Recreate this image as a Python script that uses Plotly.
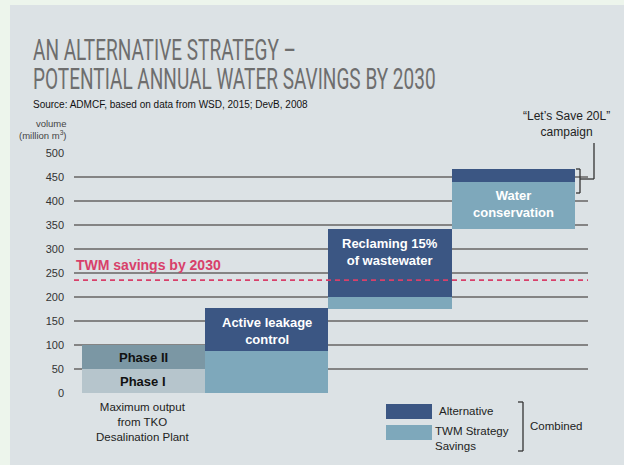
import plotly.graph_objects as go

# ---- data (million m3 per year) ----
steps = ["Desalination", "Active leakage control", "Reclaiming 15% of wastewater", "Water conservation"]
step_x = [0, 1, 2, 3]

desal_phases = ["Phase I", "Phase II"]
desal_values = [50, 50]

twm_base = [0, 175, 342]          # bars for steps 1..3
twm_values = [87, 25, 98]
alt_base = [87, 200, 440]
alt_values = [90, 142, 27]

twm_target_2030 = 235
y_ticks = [0, 50, 100, 150, 200, 250, 300, 350, 400, 450, 500]

bar_labels = ["Active leakage<br>control", "Reclaming 15%<br>of wastewater", "Water<br>conservation"]

# ---- styling ----
W, H = 624, 465
L, R, T, B = 74, 588, 153, 393          # plot-area pixel box
C_DARK = "#3b5683"
C_LIGHT = "#7ea8bb"
C_PH1 = "#b6c5cc"
C_PH2 = "#7b97a4"
C_PANEL = "#dce2e5"
C_OUTER = "#edf5ec"
C_GRID = "#848484"
C_RED = "#d8406a"
SANS = "Liberation Sans, Arial, sans-serif"


def px(x):
    return (x - L) / (R - L)


def py(y):
    return (B - y) / (B - T)


fig = go.Figure()

fig.add_bar(x=[step_x[0]], base=[0], y=[desal_values[0]], width=1,
            marker=dict(color=C_PH1, line=dict(width=0)), name=desal_phases[0])
fig.add_bar(x=[step_x[0]], base=[desal_values[0]], y=[desal_values[1]], width=1,
            marker=dict(color=C_PH2, line=dict(width=0)), name=desal_phases[1])
fig.add_bar(x=step_x[1:], base=twm_base, y=twm_values, width=1,
            marker=dict(color=C_LIGHT, line=dict(width=0)), name="TWM Strategy Savings")
fig.add_bar(x=step_x[1:], base=alt_base, y=alt_values, width=1,
            marker=dict(color=C_DARK, line=dict(width=0)), name="Alternative")

shapes = []
# panel background
shapes.append(dict(type="rect", xref="paper", yref="paper", layer="below",
                   x0=px(10), x1=px(W + 5), y0=py(H + 5), y1=py(5),
                   fillcolor=C_PANEL, line=dict(width=0)))
# 2030 target line
shapes.append(dict(type="line", xref="paper", yref="y", x0=0, x1=1,
                   y0=twm_target_2030, y1=twm_target_2030,
                   line=dict(color=C_RED, width=1.8, dash="5px,4px")))

# bracket for the campaign
bk = dict(color="#333333", width=1.3)
shapes += [
    dict(type="line", xref="paper", yref="paper", x0=px(576), x1=px(580), y0=py(169), y1=py(169), line=bk),
    dict(type="line", xref="paper", yref="paper", x0=px(580), x1=px(580), y0=py(169), y1=py(193), line=bk),
    dict(type="line", xref="paper", yref="paper", x0=px(576), x1=px(580), y0=py(193), y1=py(193), line=bk),
    dict(type="line", xref="paper", yref="paper", x0=px(580), x1=px(594), y0=py(179), y1=py(179), line=bk),
    dict(type="line", xref="paper", yref="paper", x0=px(594), x1=px(594), y0=py(179), y1=py(143), line=bk),
]

# legend swatches and bracket
shapes += [
    dict(type="rect", xref="paper", yref="paper", x0=px(386), x1=px(432), y0=py(419), y1=py(404),
         fillcolor=C_DARK, line=dict(width=0)),
    dict(type="rect", xref="paper", yref="paper", x0=px(386), x1=px(432), y0=py(440), y1=py(425),
         fillcolor=C_LIGHT, line=dict(width=0)),
    dict(type="line", xref="paper", yref="paper", x0=px(518), x1=px(523), y0=py(402), y1=py(402), line=bk),
    dict(type="line", xref="paper", yref="paper", x0=px(523), x1=px(523), y0=py(402), y1=py(451), line=bk),
    dict(type="line", xref="paper", yref="paper", x0=px(518), x1=px(523), y0=py(451), y1=py(451), line=bk),
]

ann = []
# title (first annotation, narrowed after rendering)
TITLE_FONT = dict(family="Roboto, sans-serif", size=29.5, color="#6e6e6e")
ann.append(dict(text="AN ALTERNATIVE STRATEGY –<br>POTENTIAL ANNUAL WATER SAVINGS BY 2030",
                xref="paper", yref="paper", align="left",
                x=px(31), y=py(31), xanchor="left", yanchor="top", showarrow=False, font=TITLE_FONT))
ann.append(dict(text="Source: ADMCF, based on data from WSD, 2015; DevB, 2008", xref="paper", yref="paper",
                x=px(31), y=py(104), xanchor="left", yanchor="middle", showarrow=False,
                font=dict(family=SANS, size=10, color="#111111")))
# axis unit
ann.append(dict(text="volume<br>(million m<sup>3</sup>)", xref="paper", yref="paper",
                x=px(69), y=py(130), xanchor="right", yanchor="middle", align="right", showarrow=False,
                font=dict(family=SANS, size=9.5, color="#444444")))

# bar labels
ann.append(dict(text="<b>Phase I</b>", x=step_x[0], y=desal_values[0] / 2, xref="x", yref="y",
                showarrow=False, font=dict(family=SANS, size=13, color="#111111")))
ann.append(dict(text="<b>Phase II</b>", x=step_x[0], y=desal_values[0] + desal_values[1] / 2, xref="x", yref="y",
                showarrow=False, font=dict(family=SANS, size=13, color="#111111")))
label_y = [129, 293, 394]
for i, txt in enumerate(bar_labels):
    ann.append(dict(text=f"<b>{txt}</b>", x=step_x[i + 1], y=label_y[i], xref="x", yref="y",
                    showarrow=False, font=dict(family=SANS, size=13, color="white")))

ann.append(dict(text="Maximum output<br>from TKO<br>Desalination Plant", x=step_x[0], y=py(422),
                xref="x", yref="paper", yanchor="middle", showarrow=False,
                font=dict(family=SANS, size=11.5, color="#222222")))
ann.append(dict(text="<b>TWM savings by 2030</b>", xref="paper", yref="paper", x=px(74), y=py(265),
                xanchor="left", yanchor="middle", showarrow=False,
                font=dict(family=SANS, size=14, color=C_RED)))
ann.append(dict(text="“Let’s Save 20L”<br>campaign", xref="paper", yref="paper", x=px(566), y=py(124),
                xanchor="center", yanchor="middle", showarrow=False,
                font=dict(family=SANS, size=12, color="#222222")))

# legend text
ann.append(dict(text="Alternative", xref="paper", yref="paper", x=px(437), y=py(411),
                xanchor="left", yanchor="middle", showarrow=False,
                font=dict(family=SANS, size=11.5, color="#222222")))
ann.append(dict(text="TWM Strategy<br>Savings", xref="paper", yref="paper", x=px(433), y=py(438),
                xanchor="left", yanchor="middle", align="left", showarrow=False,
                font=dict(family=SANS, size=11.5, color="#222222")))
ann.append(dict(text="Combined", xref="paper", yref="paper", x=px(528), y=py(426),
                xanchor="left", yanchor="middle", showarrow=False,
                font=dict(family=SANS, size=11.5, color="#222222")))

x_unit = 123.3
fig.update_layout(
    width=W, height=H,
    margin=dict(l=L, r=W - R, t=T, b=H - B, pad=0),
    paper_bgcolor=C_OUTER, plot_bgcolor="rgba(0,0,0,0)",
    barmode="overlay", bargap=0, showlegend=False,
    shapes=shapes, annotations=ann,
    xaxis=dict(range=[(L - 143.3) / x_unit, (R - 143.3) / x_unit], showgrid=False, zeroline=False,
               showticklabels=False, fixedrange=True),
    yaxis=dict(range=[0, 500], tickvals=y_ticks, showgrid=True, gridcolor=C_GRID, gridwidth=1.6,
               zeroline=False, ticks="", ticklabelstandoff=9,
               tickfont=dict(family=SANS, size=11, color="#333333"), fixedrange=True),
)

# condensed title: narrow the glyphs and tighten the line spacing
squeeze_js = """
var gd = document.getElementById('{plot_id}');
function squeeze(){
  gd.querySelectorAll('.annotation[data-index="0"] text').forEach(function(t){
    var lines = t.querySelectorAll('tspan.line');
    if (lines.length > 1) { lines[1].setAttribute('dy', '0.99em'); }
    t.style.transformBox = 'fill-box';
    t.style.transformOrigin = '0% 0%';
    t.style.transform = 'scaleX(0.645)';
  });
}
squeeze();
try { gd.on('plotly_afterplot', squeeze); } catch (e) {}
setTimeout(squeeze, 50);
"""

fig.write_html("out.html", post_script=squeeze_js, config={"displayModeBar": False})
